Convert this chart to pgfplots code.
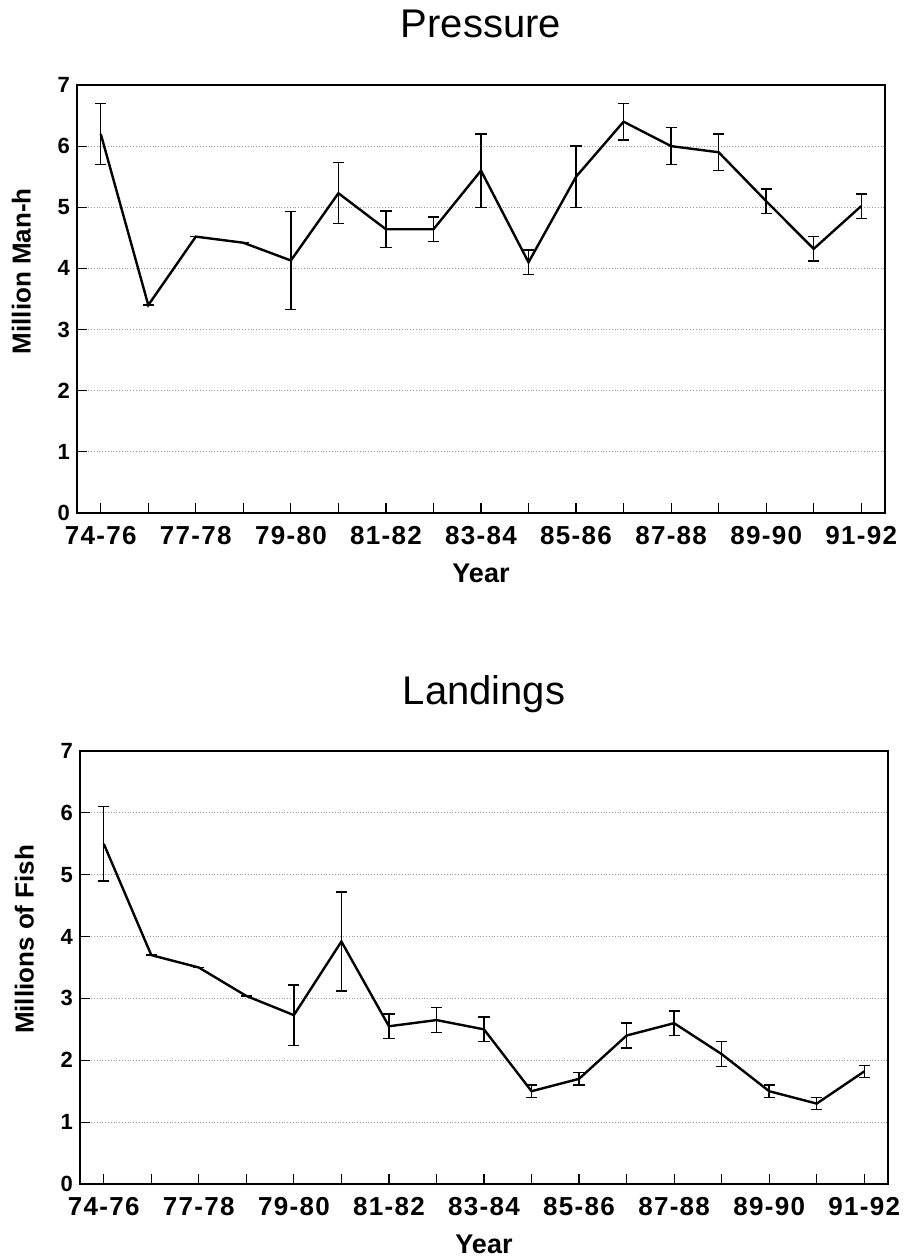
\documentclass[border=0pt]{standalone}
\usepackage{fontspec}
\setmainfont{Liberation Sans}
\newfontfamily\tickfont[LetterSpace=5]{Liberation Sans}
\usepackage{pgfplots}
\pgfplotsset{compat=1.18}
\usepackage{pgfplotstable}

\pgfplotstableread{
x y err
0 6.20 0.50
1 3.40 0
2 4.52 0
3 4.42 0
4 4.13 0.80
5 5.23 0.50
6 4.64 0.30
7 4.64 0.20
8 5.60 0.60
9 4.10 0.20
10 5.50 0.50
11 6.40 0.30
12 6.00 0.30
13 5.90 0.30
14 5.10 0.20
15 4.32 0.20
16 5.02 0.20
}\pressure

\pgfplotstableread{
x y err
0 5.50 0.60
1 3.70 0
2 3.50 0
3 3.04 0
4 2.73 0.49
5 3.92 0.80
6 2.55 0.20
7 2.65 0.20
8 2.50 0.20
9 1.50 0.10
10 1.70 0.10
11 2.40 0.20
12 2.60 0.20
13 2.10 0.20
14 1.50 0.10
15 1.30 0.10
16 1.82 0.10
}\landings

\pgfplotsset{
  panel/.style={
    scale only axis,
    width=404pt,
    xmin=-0.5, xmax=16.5,
    ymin=0, ymax=7,
    ytick={0,...,7},
    xtick={0,...,16},
    xticklabels={74-76,,77-78,,79-80,,81-82,,83-84,,85-86,,87-88,,89-90,,91-92},
    xtick pos=bottom, ytick pos=left,
    tick align=inside,
    major tick length=5pt,
    tick style={black, line width=0.6pt},
    axis line style={line width=0.6pt},
    ymajorgrids,
    grid style={densely dotted, gray!80, line width=0.4pt},
    /pgf/number format/assume math mode=true,
    x tick label style={font=\tickfont\bfseries\fontsize{13}{15}\selectfont, yshift=-3pt},
    y tick label style={font=\bfseries\fontsize{11}{13}\selectfont},
    xlabel={Year},
    xlabel style={font=\bfseries\fontsize{13.5}{16}\selectfont, yshift=-3pt},
    ylabel style={at={(ticklabel cs:0.565)}, font=\bfseries\fontsize{13}{15}\selectfont, yshift=6.5pt},
    title style={at={(0.5,1)}, anchor=base, yshift=17.5pt, font=\fontsize{20}{24}\selectfont},
  },
  series/.style={
    black, line width=1.2pt, mark=none,
    error bars/.cd, y dir=both, y explicit,
    error bar style={line width=0.7pt, black},
    error mark options={rotate=90, mark size=2.8pt, line width=0.7pt, black},
  },
}

\begin{document}
\begin{tikzpicture}
\path[use as bounding box] (0,0) rectangle (453pt,629.5pt);

\begin{axis}[panel, height=214pt, at={(38.5pt,373pt)}, anchor=south west,
  title={Pressure}, ylabel={Million Man-h}]
\addplot[series] table[x=x, y=y, y error=err] {\pressure};
\end{axis}

\begin{axis}[panel, height=216.5pt, at={(40pt,37.5pt)}, anchor=south west,
  title={Landings}, ylabel={Millions of Fish}]
\addplot[series] table[x=x, y=y, y error=err] {\landings};
\end{axis}
\end{tikzpicture}
\end{document}
